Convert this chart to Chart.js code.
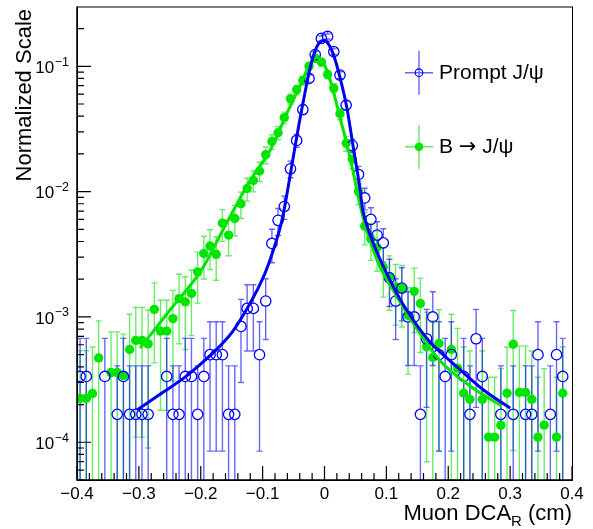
<!DOCTYPE html>
<html>
<head>
<meta charset="utf-8">
<script src="https://cdn.jsdelivr.net/npm/chart.js@4.4.0/dist/chart.umd.min.js"></script>
<style>
html, body { margin: 0; padding: 0; background: #fff; }
#chart { display: block; }
</style>
</head>
<body>
<canvas id="chart" width="593" height="529"></canvas>
<script>
// 80 bins of 0.01 cm, centres
const binCenters = [
  -0.395, -0.385, -0.375, -0.365, -0.355, -0.345, -0.335, -0.325, -0.315, -0.305,
  -0.295, -0.285, -0.275, -0.265, -0.255, -0.245, -0.235, -0.225, -0.215, -0.205,
  -0.195, -0.185, -0.175, -0.165, -0.155, -0.145, -0.135, -0.125, -0.115, -0.105,
  -0.095, -0.085, -0.075, -0.065, -0.055, -0.045, -0.035, -0.025, -0.015, -0.005,
  0.005, 0.015, 0.025, 0.035, 0.045, 0.055, 0.065, 0.075, 0.085, 0.095,
  0.105, 0.115, 0.125, 0.135, 0.145, 0.155, 0.165, 0.175, 0.185, 0.195,
  0.205, 0.215, 0.225, 0.235, 0.245, 0.255, 0.265, 0.275, 0.285, 0.295,
  0.305, 0.315, 0.325, 0.335, 0.345, 0.355, 0.365, 0.375, 0.385, 0.395
];

// Prompt J/psi (blue, open circles)
const promptVals = [
  3.35e-4, 3.35e-4, null, null, 3.35e-4, null, 1.67e-4, 3.35e-4, 1.67e-4, 1.67e-4,
  1.67e-4, 1.67e-4, null, null, 3.35e-4, 1.67e-4, 1.67e-4, 3.35e-4, 3.35e-4, 1.67e-4,
  3.35e-4, 5.0e-4, 5.0e-4, 5.0e-4, 1.67e-4, 1.67e-4, 8.4e-4, 1.17e-3, 1.17e-3, 5.0e-4,
  1.34e-3, 3.86e-3, 5.9e-3, 7.6e-3, 1.52e-2, 2.56e-2, 4.52e-2, 8.0e-2, 0.124, 0.167,
  0.173, 0.131, 8.5e-2, 4.9e-2, 2.33e-2, 1.37e-2, 8.9e-3, 6.0e-3, 4.5e-3, 3.9e-3,
  2.05e-3, 1.34e-3, 1.7e-3, 1.0e-3, 1.0e-3, 1.67e-4, 6.7e-4, 1.0e-3, 5.0e-4, 3.35e-4,
  5.0e-4, null, 3.35e-4, 1.67e-4, 6.7e-4, 3.35e-4, null, null, 1.67e-4, null,
  1.67e-4, null, 1.67e-4, 1.67e-4, 5.0e-4, null, 1.67e-4, 5.0e-4, 3.35e-4, null
];
const promptErr = [
  3.4e-4, 3.4e-4, null, null, 3.4e-4, null, 2.4e-4, 3.4e-4, 2.4e-4, 2.4e-4,
  2.4e-4, 2.4e-4, null, null, 3.4e-4, 2.4e-4, 2.4e-4, 3.4e-4, 3.4e-4, 2.4e-4,
  3.4e-4, 4.15e-4, 4.15e-4, 4.15e-4, 2.4e-4, 2.4e-4, 5.4e-4, 6.35e-4, 6.35e-4, 4.15e-4,
  6.8e-4, 1.15e-3, 1.43e-3, 1.6e-3, 2.3e-3, 3.0e-3, 3.9e-3, 5.3e-3, 6.5e-3, 7.6e-3,
  7.7e-3, 6.7e-3, 5.4e-3, 4.1e-3, 2.8e-3, 2.2e-3, 1.75e-3, 1.44e-3, 1.25e-3, 1.16e-3,
  8.4e-4, 6.8e-4, 7.7e-4, 5.9e-4, 5.9e-4, 2.4e-4, 4.8e-4, 5.9e-4, 4.15e-4, 3.4e-4,
  4.15e-4, null, 3.4e-4, 2.4e-4, 4.8e-4, 3.4e-4, null, null, 2.4e-4, null,
  2.4e-4, null, 2.4e-4, 2.4e-4, 4.15e-4, null, 2.4e-4, 4.15e-4, 3.4e-4, null
];

// B -> J/psi (green, filled circles)
const nonpromptVals = [
  2.24e-4, 2.24e-4, 2.45e-4, 4.7e-4, null, 3.6e-4, 3.6e-4, 3.4e-4, 5.5e-4, 6.5e-4,
  6.5e-4, 6.1e-4, 1.15e-3, 7.7e-4, 7.7e-4, 9.7e-4, 1.40e-3, 1.32e-3, 1.54e-3, 2.29e-3,
  3.21e-3, 3.68e-3, 3.16e-3, 5.6e-3, 4.5e-3, 6.1e-3, 8.0e-3, 1.06e-2, 1.23e-2, 1.46e-2,
  1.97e-2, 2.51e-2, 2.95e-2, 3.89e-2, 5.5e-2, 6.5e-2, 7.7e-2, 0.100, 0.116, 0.108,
  8.6e-2, 6.7e-2, 4.18e-2, 2.43e-2, 1.81e-2, 1.0e-2, 5.3e-3, 4.2e-3, 3.58e-3, 2.5e-3,
  2.1e-3, 1.74e-3, 1.7e-3, 1.03e-3, 1.6e-3, 1.28e-3, 5.8e-4, 4.75e-4, 6.15e-4, null,
  5.5e-4, 3.9e-4, 2.46e-4, 2.2e-4, null, 2.2e-4, 1.1e-4, 1.1e-4, 1.37e-4, 2.46e-4,
  6.06e-4, 2.5e-4, 2.5e-4, 2.2e-4, 1.1e-4, 1.37e-4, null, 1.1e-4, 2.46e-4, null
];
const nonpromptErr = [
  3.15e-4, 3.15e-4, 3.3e-4, 4.6e-4, null, 4.0e-4, 4.0e-4, 3.9e-4, 5.0e-4, 5.4e-4,
  5.4e-4, 5.2e-4, 7.2e-4, 5.9e-4, 5.9e-4, 6.6e-4, 7.9e-4, 7.7e-4, 8.3e-4, 1.0e-3,
  1.2e-3, 1.29e-3, 1.2e-3, 1.59e-3, 1.42e-3, 1.66e-3, 1.9e-3, 2.2e-3, 2.35e-3, 2.55e-3,
  3.0e-3, 3.35e-3, 3.6e-3, 4.2e-3, 5.0e-3, 5.4e-3, 5.9e-3, 6.7e-3, 7.2e-3, 7.0e-3,
  6.2e-3, 5.5e-3, 4.3e-3, 3.3e-3, 2.85e-3, 2.1e-3, 1.54e-3, 1.37e-3, 1.27e-3, 1.06e-3,
  9.7e-4, 8.8e-4, 8.7e-4, 6.8e-4, 8.5e-4, 7.6e-4, 5.1e-4, 4.6e-4, 5.3e-4, null,
  5.0e-4, 4.2e-4, 3.3e-4, 3.15e-4, null, 3.15e-4, 2.2e-4, 2.2e-4, 2.5e-4, 3.3e-4,
  5.2e-4, 3.35e-4, 3.35e-4, 3.15e-4, 2.2e-4, 2.5e-4, null, 2.2e-4, 3.3e-4, null
];

// fit curves
const promptFitX = [-0.303, -0.258, -0.2255, -0.193, -0.172, -0.148, -0.120, -0.099, -0.083, -0.069,
  -0.057, -0.045, -0.034, -0.023, -0.013, -0.0045, 0.0036, 0.014, 0.025, 0.036,
  0.0465, 0.057, 0.063, 0.079, 0.106, 0.133, 0.170, 0.214, 0.257, 0.300];
const promptFitY = [1.81e-4, 2.56e-4, 3.31e-4, 4.53e-4, 5.64e-4, 7.7e-4, 1.29e-3, 2.07e-3, 3.38e-3, 5.85e-3,
  1.22e-2, 2.72e-2, 5.33e-2, 9.8e-2, 0.1415, 0.160, 0.157, 0.1256, 8.17e-2, 4.71e-2,
  2.26e-2, 1.09e-2, 6.7e-3, 3.86e-3, 1.96e-3, 1.13e-3, 6.34e-4, 4.0e-4, 2.61e-4, 1.87e-4];

const nonpromptFitX = [-0.298, -0.250, -0.201, -0.161, -0.120, -0.088, -0.061, -0.040, -0.027, -0.015,
  -0.007, 0.004, 0.014, 0.025, 0.036, 0.0465, 0.057, 0.068, 0.090, 0.117,
  0.1435, 0.187, 0.235, 0.286];
const nonpromptFitY = [5.64e-4, 1.13e-3, 2.28e-3, 5.3e-3, 1.23e-2, 2.13e-2, 4.2e-2, 6.89e-2, 9.6e-2, 0.117,
  0.115, 9.24e-2, 6.4e-2, 3.9e-2, 2.42e-2, 1.42e-2, 8.05e-3, 4.92e-3, 2.5e-3, 1.45e-3,
  8.87e-4, 4.45e-4, 2.81e-4, 1.95e-4];

const xTicks = [-0.4, -0.3, -0.2, -0.1, 0, 0.1, 0.2, 0.3, 0.4];
const xTickLabels = ['\u22120.4', '\u22120.3', '\u22120.2', '\u22120.1', '0', '0.1', '0.2', '0.3', '0.4'];
const yTicks = [1e-4, 1e-3, 1e-2, 1e-1];
const yTickExps = ['\u22124', '\u22123', '\u22122', '\u22121'];
// legend text, split so the arrow can use a wider glyph
const legendLabels = [['Prompt J/\u03c8'], ['B ', '\u2192', ' J/\u03c8']];

const BLUE = 'rgb(0,0,255)';
const BLUE_ERR = 'rgba(0,0,255,0.6)';
const GREEN = 'rgb(0,228,0)';
const GREEN_ERR = 'rgba(0,225,0,0.6)';
const FONT = '"Liberation Sans", Arial, Helvetica, sans-serif';

function toPoints(xs, ys) {
    const pts = [];
    xs.forEach((x, i) => { if (ys[i] != null) pts.push({x: x, y: ys[i]}); });
    return pts;
}

function drawErrors(ctx, xs, ys, vals, errs, color, gap) {
    ctx.strokeStyle = color;
    ctx.lineWidth = 1.4;
    vals.forEach((v, i) => {
        if (v == null) return;
        const px = xs.getPixelForValue(binCenters[i]);
        const py = ys.getPixelForValue(v);
        const top = ys.getPixelForValue(v + errs[i]);
        const low = v - errs[i];
        const bot = low > 0 ? ys.getPixelForValue(low) : ys.bottom + 10;
        ctx.beginPath();
        ctx.moveTo(px, py - gap); ctx.lineTo(px, top);
        ctx.moveTo(px, py + gap); ctx.lineTo(px, bot);
        ctx.moveTo(px - 3, top); ctx.lineTo(px + 3, top);
        if (low > 0) { ctx.moveTo(px - 3, bot); ctx.lineTo(px + 3, bot); }
        ctx.stroke();
    });
}

const errorBars = {
    id: 'errorBars',
    beforeDatasetsDraw(chart) {
        const {ctx, chartArea: a, scales: {x, y}} = chart;
        ctx.save();
        ctx.beginPath();
        ctx.rect(a.left, a.top, a.right - a.left, a.bottom - a.top);
        ctx.clip();
        drawErrors(ctx, x, y, nonpromptVals, nonpromptErr, GREEN_ERR, 4.5);
        drawErrors(ctx, x, y, promptVals, promptErr, BLUE_ERR, 5);
        ctx.restore();
    }
};

// ROOT style frame, inward ticks, labels, titles and legend
const rootFrame = {
    id: 'rootFrame',
    afterDraw(chart) {
        const {ctx, chartArea: a, scales: {x, y}} = chart;
        ctx.save();
        ctx.strokeStyle = '#000';
        ctx.lineWidth = 1;
        ctx.strokeRect(a.left + 0.5, a.top + 0.5, a.right - a.left, a.bottom - a.top);
        ctx.lineWidth = 1.5;
        ctx.beginPath();
        ctx.moveTo(a.left, a.top); ctx.lineTo(a.left, a.bottom); ctx.lineTo(a.right, a.bottom);
        ctx.stroke();

        // x ticks
        ctx.lineWidth = 1.2;
        ctx.beginPath();
        for (let i = 0; i < xTicks.length; i++) {
            const px = x.getPixelForValue(xTicks[i]);
            ctx.moveTo(px, a.bottom); ctx.lineTo(px, a.bottom - 14);
            if (i < xTicks.length - 1) {
                for (let k = 1; k < 5; k++) {
                    const mx = x.getPixelForValue(xTicks[i] + k * 0.02);
                    ctx.moveTo(mx, a.bottom); ctx.lineTo(mx, a.bottom - 7);
                }
            }
        }
        // y ticks (log)
        for (let e = -5; e <= -1; e++) {
            for (let k = 1; k < 10; k++) {
                const v = k * Math.pow(10, e);
                if (v < y.min || v > y.max) continue;
                const py = y.getPixelForValue(v);
                ctx.moveTo(a.left, py); ctx.lineTo(a.left + (k === 1 ? 14 : 7), py);
            }
        }
        ctx.stroke();

        ctx.fillStyle = '#000';
        // x labels
        ctx.font = '17px ' + FONT;
        ctx.textAlign = 'center';
        ctx.textBaseline = 'top';
        xTicks.forEach((t, i) => ctx.fillText(xTickLabels[i], x.getPixelForValue(t), a.bottom + 6));
        // y labels 10^n
        yTicks.forEach((t, i) => {
            const py = y.getPixelForValue(t);
            ctx.font = '12.5px ' + FONT;
            const sw = ctx.measureText(yTickExps[i]).width;
            ctx.textAlign = 'right';
            ctx.textBaseline = 'middle';
            ctx.fillText(yTickExps[i], 69, py - 4);
            ctx.font = '17px ' + FONT;
            ctx.fillText('10', 69 - sw - 0.5, py + 2);
        });

        // x title with subscript
        ctx.textAlign = 'left';
        ctx.textBaseline = 'alphabetic';
        ctx.font = '22px ' + FONT;
        const w1 = ctx.measureText('Muon DCA').width;
        const w3 = ctx.measureText(' (cm)').width;
        ctx.font = '15px ' + FONT;
        const w2 = ctx.measureText('R').width;
        let sx = a.right - (w1 + w2 + w3);
        ctx.font = '22px ' + FONT;
        ctx.fillText('Muon DCA', sx, 520);
        ctx.font = '15px ' + FONT;
        ctx.fillText('R', sx + w1, 526);
        ctx.font = '22px ' + FONT;
        ctx.fillText(' (cm)', sx + w1 + w2, 520);

        // y title
        ctx.save();
        ctx.translate(25, 9);
        ctx.rotate(-Math.PI / 2);
        ctx.textAlign = 'right';
        ctx.textBaseline = 'middle';
        ctx.font = '22px ' + FONT;
        ctx.fillText('Normalized Scale', 0, 0);
        ctx.restore();

        // legend
        const entries = [
            {cy: 72.7, err: BLUE_ERR, fill: null, line: BLUE, r: 3.8},
            {cy: 146.7, err: GREEN_ERR, fill: GREEN, line: null, r: 4.3}
        ];
        entries.forEach((en, i) => {
            ctx.strokeStyle = en.err;
            ctx.lineWidth = 1.4;
            ctx.beginPath();
            ctx.moveTo(419, en.cy - 22); ctx.lineTo(419, en.cy + 22);
            ctx.moveTo(405, en.cy); ctx.lineTo(433, en.cy);
            ctx.stroke();
            ctx.beginPath();
            ctx.arc(419, en.cy, en.r, 0, Math.PI * 2);
            if (en.fill) { ctx.fillStyle = en.fill; ctx.fill(); }
            if (en.line) { ctx.strokeStyle = en.line; ctx.lineWidth = 1.2; ctx.stroke(); }
            ctx.fillStyle = '#000';
            ctx.textAlign = 'left';
            ctx.textBaseline = 'alphabetic';
            let tx = 439;
            legendLabels[i].forEach(part => {
                ctx.font = part === '\u2192' ? '21px "DejaVu Sans", sans-serif' : '21px ' + FONT;
                ctx.fillText(part, tx, en.cy + 6);
                tx += ctx.measureText(part).width;
            });
        });
        ctx.restore();
    }
};

new Chart(document.getElementById('chart').getContext('2d'), {
    type: 'scatter',
    data: {
        datasets: [
            {
                label: 'prompt fit',
                data: toPoints(promptFitX, promptFitY),
                showLine: true, pointRadius: 0, borderColor: 'rgb(0,0,240)', borderWidth: 3,
                tension: 0.3, order: 0
            },
            {
                label: 'nonprompt fit',
                data: toPoints(nonpromptFitX, nonpromptFitY),
                showLine: true, pointRadius: 0, borderColor: 'rgb(0,230,0)', borderWidth: 3,
                tension: 0.3, order: 1
            },
            {
                label: legendLabels[0].join(''),
                data: toPoints(binCenters, promptVals),
                pointStyle: 'circle', pointRadius: 5.2, pointBorderWidth: 1.3,
                pointBackgroundColor: 'rgba(0,0,0,0)', pointBorderColor: BLUE, order: 2
            },
            {
                label: legendLabels[1].join(''),
                data: toPoints(binCenters, nonpromptVals),
                pointStyle: 'circle', pointRadius: 4.7, pointBorderWidth: 0,
                pointBackgroundColor: GREEN, pointBorderColor: GREEN, order: 3
            }
        ]
    },
    options: {
        responsive: false,
        animation: false,
        events: [],
        devicePixelRatio: 1,
        layout: { padding: { left: 77, right: 21, top: 6, bottom: 49 } },
        plugins: { legend: { display: false }, tooltip: { enabled: false } },
        scales: {
            x: { type: 'linear', min: -0.4, max: 0.4, display: false },
            y: { type: 'logarithmic', min: 5e-5, max: 0.3, display: false }
        }
    },
    plugins: [errorBars, rootFrame]
});
</script>
</body>
</html>
